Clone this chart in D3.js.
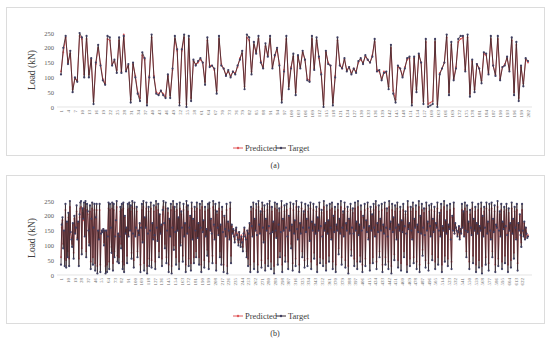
<html>
  <meta charset="utf-8">
  <head>
  <style>
    body { margin: 0; background: #fff; }
    text { font-family: "Liberation Serif", "DejaVu Serif", serif; }
  </style>
  </head>
  <body>
    <div id="chart"></div>
    <script src="https://d3js.org/d3.v7.min.js"></script>
    <script>
    'use strict';

    // panel (a): 202 samples
    var targetA = [
      110, 200, 240, 145, 190, 50, 100, 85, 250, 235,
      100, 240, 100, 165, 10, 150, 210, 140, 90, 75,
      240, 235, 140, 160, 115, 235, 115, 240, 120, 145,
      15, 150, 100, 45, 20, 185, 165, 5, 100, 245,
      100, 45, 40, 55, 40, 30, 110, 30, 130, 240,
      195, 5, 195, 245, 0, 240, 20, 160, 140, 155,
      165, 150, 75, 235, 135, 140, 130, 45, 240, 140,
      130, 105, 125, 100, 120, 110, 140, 160, 190, 60,
      245, 235, 110, 220, 180, 240, 150, 130, 215, 170,
      240, 130, 175, 200, 140, 15, 120, 240, 60, 130,
      180, 40, 175, 130, 190, 160, 90, 85, 240, 125,
      235, 170, 110, 0, 190, 145, 140, 5, 100, 235,
      140, 130, 165, 120, 135, 110, 130, 115, 155, 165,
      145, 175, 160, 150, 170, 230, 120, 125, 90, 115,
      120, 60, 210, 45, 15, 140, 130, 100, 130, 165,
      170, 5, 170, 50, 180, 150, 10, 230, 0, 5,
      10, 230, 0, 110, 130, 150, 245, 40, 220, 90,
      130, 230, 240, 240, 120, 245, 35, 160, 50, 145,
      130, 80, 185, 180, 110, 240, 140, 105, 240, 90,
      135, 140, 170, 120, 235, 40, 220, 20, 140, 70,
      165, 155
    ];
    var predictedA = [
      120, 185, 235, 150, 180, 60, 95, 90, 240, 230,
      110, 230, 110, 160, 20, 145, 200, 145, 95, 80,
      230, 225, 145, 155, 125, 225, 120, 245, 125, 140,
      25, 145, 105, 50, 30, 175, 160, 15, 105, 235,
      105, 50, 45, 55, 45, 35, 105, 40, 125, 230,
      190, 15, 190, 235, 10, 230, 30, 155, 145, 150,
      160, 150, 85, 225, 140, 140, 125, 55, 230, 145,
      130, 110, 120, 105, 120, 115, 135, 165, 180, 70,
      235, 225, 120, 210, 185, 230, 155, 135, 205, 175,
      230, 135, 170, 195, 145, 25, 125, 230, 70, 135,
      170, 50, 170, 135, 185, 160, 95, 90, 230, 130,
      225, 165, 115, 10, 185, 150, 140, 15, 105, 225,
      145, 130, 160, 125, 135, 115, 130, 120, 150, 160,
      150, 170, 160, 150, 175, 220, 125, 120, 95, 120,
      115, 70, 200, 55, 25, 135, 130, 105, 135, 160,
      165, 15, 165, 60, 175, 150, 20, 220, 10, 15,
      20, 220, 10, 115, 130, 150, 235, 50, 210, 95,
      135, 220, 230, 235, 125, 235, 45, 155, 60, 145,
      130, 90, 180, 175, 115, 230, 140, 110, 230, 95,
      135, 145, 165, 125, 225, 50, 210, 30, 135, 80,
      160, 150
    ];

    // panel (b): 630 samples
    var targetB = [
      35, 170, 195, 90, 150, 30, 240, 25, 180, 60,
      210, 30, 250, 145, 120, 95, 175, 55, 200, 140,
      160, 235, 120, 180, 30, 205, 245, 250, 70, 225,
      190, 245, 130, 250, 60, 240, 215, 150, 100, 235,
      20, 190, 245, 35, 160, 240, 15, 195, 240, 5,
      150, 120, 240, 10, 140, 150, 145, 155, 100, 150,
      5, 150, 10, 130, 245, 20, 240, 160, 75, 245,
      15, 240, 60, 130, 185, 250, 45, 140, 40, 130,
      230, 90, 240, 20, 245, 10, 200, 140, 160, 40,
      240, 130, 245, 150, 235, 55, 250, 140, 25, 245,
      130, 160, 230, 60, 150, 135, 175, 10, 160, 240,
      110, 250, 15, 195, 160, 245, 5, 140, 230, 30,
      150, 245, 25, 175, 120, 235, 135, 20, 250, 160,
      115, 240, 60, 205, 140, 170, 30, 220, 250, 175,
      90, 245, 40, 150, 225, 10, 190, 130, 240, 5,
      160, 250, 85, 230, 145, 35, 240, 150, 195, 20,
      245, 100, 215, 160, 45, 240, 130, 175, 10, 250,
      140, 235, 30, 160, 200, 15, 245, 120, 190, 40,
      230, 150, 60, 245, 125, 175, 35, 240, 160, 10,
      250, 145, 185, 25, 230, 130, 155, 65, 240, 20,
      245, 150, 190, 140, 40, 250, 170, 120, 240, 15,
      215, 160, 135, 245, 60, 170, 35, 230, 145, 10,
      200, 155, 130, 240, 5, 180, 150, 120, 245, 40,
      170, 140, 155, 130, 110, 150, 160, 135, 120, 100,
      145, 120, 95, 130, 110, 80, 140, 160, 130, 120,
      60, 150, 30, 140, 175, 10, 230, 165, 130, 245,
      20, 190, 150, 240, 135, 10, 250, 170, 140, 215,
      25, 245, 160, 110, 235, 15, 190, 150, 240, 30,
      165, 250, 140, 20, 230, 145, 180, 5, 245, 150,
      125, 240, 35, 170, 225, 60, 145, 250, 10, 190,
      150, 235, 45, 160, 240, 130, 20, 200, 150, 245,
      90, 170, 15, 240, 140, 185, 30, 250, 155, 120,
      230, 10, 175, 140, 245, 60, 160, 215, 25, 240,
      145, 190, 30, 235, 160, 115, 245, 20, 180, 150,
      240, 55, 170, 140, 230, 10, 195, 150, 245, 40,
      165, 220, 130, 30, 250, 150, 175, 15, 235, 140,
      185, 45, 240, 160, 120, 245, 20, 200, 145, 230,
      10, 170, 150, 240, 70, 190, 140, 250, 35, 160,
      215, 130, 245, 25, 175, 150, 230, 5, 190, 140,
      240, 65, 160, 225, 140, 30, 245, 150, 180, 20,
      250, 135, 170, 45, 235, 150, 10, 200, 160, 240,
      30, 185, 145, 245, 120, 165, 15, 230, 150, 205,
      40, 240, 160, 130, 250, 20, 175, 145, 235, 60,
      190, 150, 240, 10, 170, 140, 245, 35, 160, 225,
      130, 20, 250, 155, 180, 5, 240, 145, 195, 50,
      235, 160, 120, 245, 25, 170, 150, 230, 15, 185,
      145, 240, 60, 165, 215, 140, 10, 250, 155, 175,
      30, 230, 150, 120, 245, 40, 190, 160, 235, 20,
      170, 145, 250, 10, 200, 140, 240, 65, 160, 225,
      135, 25, 245, 150, 180, 15, 235, 165, 130, 240,
      50, 190, 145, 230, 20, 175, 160, 245, 35, 150,
      210, 130, 240, 10, 165, 150, 250, 45, 185, 140,
      235, 30, 170, 155, 240, 120, 20, 200, 150, 245,
      140, 175, 160, 150, 130, 145, 165, 120, 155, 140,
      240, 160, 215, 130, 245, 150, 60, 235, 145, 180,
      20, 220, 160, 135, 245, 40, 190, 150, 230, 10,
      175, 140, 240, 25, 165, 150, 245, 5, 200, 130,
      230, 160, 35, 245, 140, 180, 15, 240, 150, 120,
      245, 60, 190, 145, 235, 10, 170, 160, 250, 30,
      150, 215, 130, 240, 20, 180, 155, 230, 40, 165,
      240, 135, 10, 225, 150, 175, 25, 245, 140, 190,
      55, 230, 160, 120, 240, 15, 175, 150, 205, 135,
      95, 240, 150, 130, 180, 120, 160, 140, 125, 130
    ];
    var predictedB = [
      60, 160, 185, 105, 150, 55, 220, 50, 175, 80,
      195, 55, 230, 145, 125, 105, 170, 75, 190, 140,
      160, 215, 125, 175, 55, 195, 225, 230, 90, 210,
      185, 225, 135, 230, 80, 220, 205, 150, 110, 215,
      45, 185, 225, 60, 160, 220, 40, 190, 220, 30,
      150, 125, 220, 35, 140, 150, 145, 155, 110, 150,
      30, 150, 35, 135, 225, 45, 220, 160, 95, 225,
      40, 220, 80, 135, 180, 230, 65, 140, 60, 135,
      215, 105, 220, 45, 225, 35, 195, 140, 160, 65,
      220, 135, 225, 150, 215, 75, 230, 140, 50, 225,
      135, 160, 215, 80, 150, 135, 170, 35, 160, 220,
      120, 230, 40, 190, 160, 225, 30, 140, 215, 55,
      150, 225, 50, 170, 125, 215, 135, 45, 230, 160,
      120, 220, 80, 200, 140, 165, 55, 205, 230, 170,
      105, 225, 60, 150, 210, 35, 185, 135, 220, 30,
      160, 230, 100, 215, 145, 60, 220, 150, 190, 45,
      225, 110, 205, 160, 65, 220, 135, 170, 35, 230,
      140, 215, 55, 160, 195, 40, 225, 125, 185, 60,
      215, 150, 80, 225, 130, 170, 60, 220, 160, 35,
      230, 145, 180, 50, 215, 135, 155, 85, 220, 45,
      225, 150, 185, 140, 65, 230, 165, 125, 220, 40,
      205, 160, 140, 225, 80, 165, 60, 215, 145, 35,
      195, 155, 135, 220, 30, 175, 150, 125, 225, 65,
      165, 145, 150, 135, 120, 150, 155, 140, 125, 110,
      145, 125, 110, 135, 120, 95, 140, 155, 135, 125,
      80, 150, 55, 140, 170, 35, 215, 160, 135, 225,
      45, 185, 150, 220, 135, 35, 230, 165, 140, 205,
      50, 225, 160, 120, 215, 40, 185, 150, 220, 55,
      160, 230, 140, 45, 215, 145, 175, 30, 225, 150,
      130, 220, 60, 165, 210, 80, 145, 230, 35, 185,
      150, 215, 65, 160, 220, 135, 45, 195, 150, 225,
      105, 165, 40, 220, 140, 180, 55, 230, 155, 125,
      215, 35, 170, 140, 225, 80, 160, 205, 50, 220,
      145, 185, 55, 215, 160, 120, 225, 45, 175, 150,
      220, 75, 165, 140, 215, 35, 190, 150, 225, 60,
      160, 210, 135, 55, 230, 150, 170, 40, 215, 140,
      180, 65, 220, 160, 125, 225, 45, 195, 145, 215,
      35, 165, 150, 220, 90, 185, 140, 230, 60, 160,
      205, 135, 225, 50, 170, 150, 215, 30, 185, 140,
      220, 85, 160, 210, 140, 55, 225, 150, 175, 45,
      230, 140, 165, 65, 215, 150, 35, 195, 160, 220,
      55, 180, 145, 225, 125, 160, 40, 215, 150, 200,
      60, 220, 160, 135, 230, 45, 170, 145, 215, 80,
      185, 150, 220, 35, 165, 140, 225, 60, 160, 210,
      135, 45, 230, 155, 175, 30, 220, 145, 190, 70,
      215, 160, 125, 225, 50, 165, 150, 215, 40, 180,
      145, 220, 80, 160, 205, 140, 35, 230, 155, 170,
      55, 215, 150, 125, 225, 60, 185, 160, 215, 45,
      165, 145, 230, 35, 195, 140, 220, 85, 160, 210,
      135, 50, 225, 150, 175, 40, 215, 160, 135, 220,
      70, 185, 145, 215, 45, 170, 160, 225, 60, 150,
      200, 135, 220, 35, 160, 150, 230, 65, 180, 140,
      215, 55, 165, 155, 220, 125, 45, 195, 150, 225,
      140, 170, 160, 150, 135, 145, 160, 125, 155, 140,
      220, 160, 205, 135, 225, 150, 80, 215, 145, 175,
      45, 205, 160, 140, 225, 65, 185, 150, 215, 35,
      170, 140, 220, 50, 160, 150, 225, 30, 195, 135,
      215, 160, 60, 225, 140, 175, 40, 220, 150, 125,
      225, 80, 185, 145, 215, 35, 165, 160, 230, 55,
      150, 205, 135, 220, 45, 175, 155, 215, 65, 160,
      220, 140, 35, 210, 150, 170, 50, 225, 140, 185,
      75, 215, 160, 125, 220, 40, 170, 150, 200, 135,
      110, 220, 150, 135, 175, 125, 160, 140, 130, 135
    ];

    var yTicks = [0, 50, 100, 150, 200, 250];
    var seriesNames = ['Predicted', 'Target'];
    var captions = ['(a)', '(b)'];
    var tickStep = [3, 9];

    var RED = '#e0585a', DARK = '#33242b', DOT = '#3f3f62';

    var svg = d3.select('#chart').append('svg')
      .attr('width', 550).attr('height', 342)
      .style('display', 'block');
    svg.append('rect').attr('width', 550).attr('height', 342).attr('fill', '#fff');

    function panel(top, target, predicted, step, caption) {
      var g = svg.append('g').attr('transform', 'translate(0,' + top + ')');

      g.append('rect')
        .attr('x', 6.5).attr('y', 7.5).attr('width', 538).attr('height', 148)
        .attr('fill', '#fff').attr('stroke', '#dcdcdc');

      var idx = d3.range(1, target.length + 1);
      var x = d3.scaleLinear().domain([1, target.length]).range([61, 528]);
      var y = d3.scaleLinear().domain([0, 250]).range([107, 33]);

      // y axis labels
      var ya = g.append('g').attr('transform', 'translate(57,0)')
        .call(d3.axisLeft(y).tickValues(yTicks).tickSize(0).tickPadding(3));
      ya.select('.domain').remove();
      ya.selectAll('text')
        .style('font-family', '"Liberation Serif", serif')
        .style('font-size', '6.5px').attr('fill', '#595959');

      // x axis
      var xa = g.append('g').attr('transform', 'translate(0,107)')
        .call(d3.axisBottom(x)
          .tickValues(idx.filter(function (i) { return (i - 1) % step === 0; }))
          .tickSize(0).tickFormat(d3.format('d')));
      xa.select('.domain').attr('stroke', '#d9d9d9').attr('stroke-width', 0.7)
        .attr('d', 'M57,0H532');
      xa.selectAll('text')
        .style('font-family', '"Liberation Serif", serif')
        .style('font-size', '5px').attr('fill', '#6a6a6a')
        .attr('text-anchor', 'end')
        .attr('transform', 'rotate(-90)')
        .attr('x', -3).attr('y', 0).attr('dy', '0.35em');

      g.append('text')
        .attr('transform', 'translate(35,70) rotate(-90)')
        .attr('text-anchor', 'middle')
        .style('font-size', '9.5px').attr('fill', '#404040')
        .text('Load (kN)');

      var line = d3.line().x(function (d, i) { return x(i + 1); }).y(function (d) { return y(d); });

      // predicted underneath, target on top
      g.append('path').datum(predicted)
        .attr('d', line).attr('fill', 'none')
        .attr('stroke', RED).attr('stroke-width', 1);
      g.append('g').selectAll('circle').data(predicted).join('circle')
        .attr('cx', function (d, i) { return x(i + 1); })
        .attr('cy', function (d) { return y(d); })
        .attr('r', 0.9).attr('fill', RED);

      g.append('path').datum(target)
        .attr('d', line).attr('fill', 'none')
        .attr('stroke', DARK).attr('stroke-width', 0.8);
      g.append('g').selectAll('circle').data(target).join('circle')
        .attr('cx', function (d, i) { return x(i + 1); })
        .attr('cy', function (d) { return y(d); })
        .attr('r', 1.1).attr('fill', DOT);

      // legend
      var leg = g.append('g').attr('transform', 'translate(0,148)');
      var items = [
        {name: seriesNames[0], color: RED, x0: 233, tx: 245},
        {name: seriesNames[1], color: DARK, x0: 276, tx: 288}
      ];
      items.forEach(function (it) {
        leg.append('line').attr('x1', it.x0).attr('x2', it.x0 + 10)
          .attr('y1', 0).attr('y2', 0).attr('stroke', it.color).attr('stroke-width', 1);
        leg.append('circle').attr('cx', it.x0 + 5).attr('cy', 0).attr('r', 1.2)
          .attr('fill', it.color === RED ? RED : DOT);
        leg.append('text').attr('x', it.tx).attr('y', 0).attr('dy', '0.35em')
          .style('font-size', '8.5px').attr('fill', '#404040').text(it.name);
      });

      g.append('text').attr('x', 275).attr('y', 168)
        .attr('text-anchor', 'middle')
        .style('font-size', '8px').attr('fill', '#333')
        .text(caption);
    }

    panel(0, targetA, predictedA, tickStep[0], captions[0]);
    panel(168, targetB, predictedB, tickStep[1], captions[1]);
    </script>
  </body>
</html>
